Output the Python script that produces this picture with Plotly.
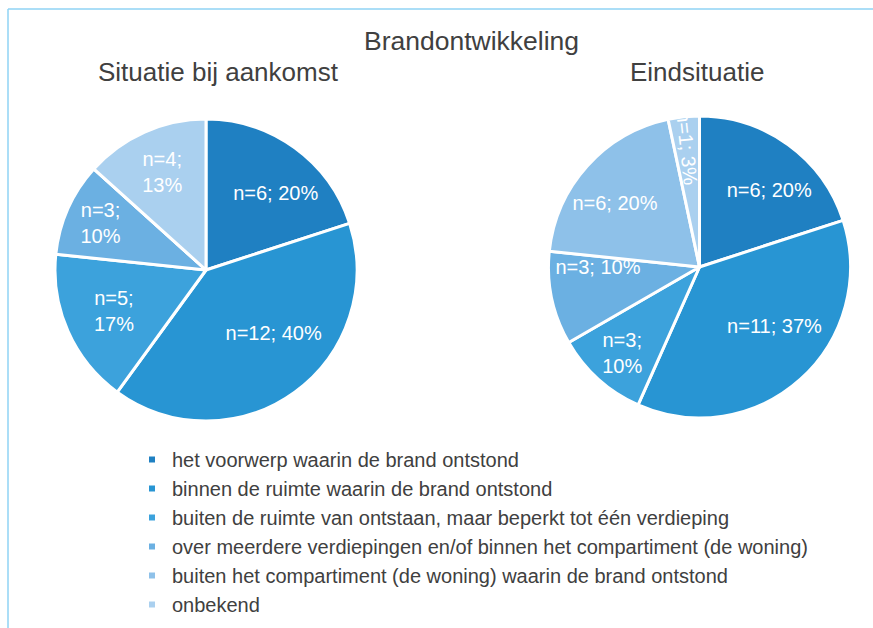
import plotly.graph_objects as go

categories = [
    "het voorwerp waarin de brand ontstond",
    "binnen de ruimte waarin de brand ontstond",
    "buiten de ruimte van ontstaan, maar beperkt tot één verdieping",
    "over meerdere verdiepingen en/of binnen het compartiment (de woning)",
    "buiten het compartiment (de woning) waarin de brand ontstond",
    "onbekend",
]
values_aankomst = [6, 12, 5, 3, 0, 4]
values_eind = [6, 11, 3, 3, 6, 1]

main_title = "Brandontwikkeling"
subtitle_left = "Situatie bij aankomst"
subtitle_right = "Eindsituatie"

# style
colors = ["#1f80c2", "#2895d3", "#3ca2dc", "#6bb0e2", "#8ec1e9", "#aad0ef"]
wrap_left = [False, False, True, True, True, True]
wrap_right = [False, False, True, False, False, False]
# horizontal nudges of label text (positive: leading pad, negative: trailing pad)
pad_left = [5, 8, 0, 0, 0, 0]
pad_right = [5, 8, 0, 4, -5, 0]
radial_right = [False, False, False, False, False, True]
text_color = "#404040"
font_main = "Liberation Sans, Arial, sans-serif"
label_size = 20


def make_labels(vals, wraps, pads):
    total = sum(vals)
    out = []
    for v, w, p in zip(vals, wraps, pads):
        if v == 0:
            out.append("")
            continue
        pct = round(100 * v / total)
        sep = ";<br>" if w else "; "
        core = f"n={v}{sep}{pct}%"
        if p > 0:
            core = "\u00a0" * p + core
        elif p < 0:
            core = core + "\u00a0" * (-p)
        out.append(core)
    return out


def pick(texts, mask, keep):
    return [t if (m == keep) else "" for t, m in zip(texts, mask)]


fig = go.Figure()

pie_common = dict(
    labels=categories,
    sort=False,
    direction="clockwise",
    rotation=0,
    textinfo="text",
    textposition="inside",
    textfont=dict(color="white", size=label_size, family=font_main),
    showlegend=False,
    hoverinfo="label+value+percent",
)

dom_left = dict(x=[54 / 873, 358 / 873], y=[1 - 421 / 628, 1 - 119 / 628])
dom_right = dict(x=[547 / 873, 852 / 873], y=[1 - 418 / 628, 1 - 116 / 628])

fig.add_trace(go.Pie(
    values=values_aankomst,
    text=make_labels(values_aankomst, wrap_left, pad_left),
    domain=dom_left,
    marker=dict(colors=colors, line=dict(color="white", width=3)),
    insidetextorientation="horizontal",
    **pie_common,
))

labels_right = make_labels(values_eind, wrap_right, pad_right)
fig.add_trace(go.Pie(
    values=values_eind,
    text=pick(labels_right, radial_right, False),
    domain=dom_right,
    marker=dict(colors=colors, line=dict(color="white", width=3)),
    insidetextorientation="horizontal",
    **pie_common,
))
# overlay carrying the radial label of the thin slice
fig.add_trace(go.Pie(
    values=values_eind,
    text=pick(labels_right, radial_right, True),
    domain=dom_right,
    marker=dict(colors=["rgba(0,0,0,0)"] * len(values_eind),
                line=dict(color="rgba(0,0,0,0)", width=0)),
    insidetextorientation="radial",
    **pie_common,
))

# legend entries with small square markers
for cat, col in zip(categories, colors):
    fig.add_trace(go.Scatter(
        x=[None], y=[None], mode="markers", name=cat,
        marker=dict(symbol="square", size=6, color=col),
        showlegend=True,
    ))

fig.update_layout(
    width=873,
    height=628,
    margin=dict(l=0, r=0, t=0, b=0),
    paper_bgcolor="white",
    plot_bgcolor="white",
    xaxis=dict(visible=False),
    yaxis=dict(visible=False),
    uniformtext=dict(minsize=label_size, mode="show"),
    legend=dict(
        x=132 / 873, y=1 - 440 / 628, xanchor="left", yanchor="top",
        font=dict(size=20, color=text_color, family=font_main),
        itemsizing="trace",
        bgcolor="rgba(0,0,0,0)",
        tracegroupgap=0,
    ),
    annotations=[
        dict(text=main_title, x=472 / 873, y=1 - 41 / 628, xref="paper", yref="paper",
             showarrow=False, font=dict(size=26.5, color=text_color, family=font_main),
             xanchor="center", yanchor="middle"),
        dict(text=subtitle_left, x=218 / 873, y=1 - 72 / 628, xref="paper", yref="paper",
             showarrow=False, font=dict(size=26, color=text_color, family=font_main),
             xanchor="center", yanchor="middle"),
        dict(text=subtitle_right, x=697 / 873, y=1 - 72 / 628, xref="paper", yref="paper",
             showarrow=False, font=dict(size=26, color=text_color, family=font_main),
             xanchor="center", yanchor="middle"),
    ],
    shapes=[
        dict(type="line", xref="paper", yref="paper", x0=8 / 873, x1=1, y0=1 - 9 / 628, y1=1 - 9 / 628,
             line=dict(color="#8fd3f5", width=1.5)),
        dict(type="line", xref="paper", yref="paper", x0=8 / 873, x1=8 / 873, y0=0, y1=1 - 9 / 628,
             line=dict(color="#8fd3f5", width=1.5)),
    ],
)

fig.write_html(
    "out.html",
    config={"displayModeBar": False},
    post_script="document.body.style.margin='0px';document.body.style.overflow='hidden';",
)
